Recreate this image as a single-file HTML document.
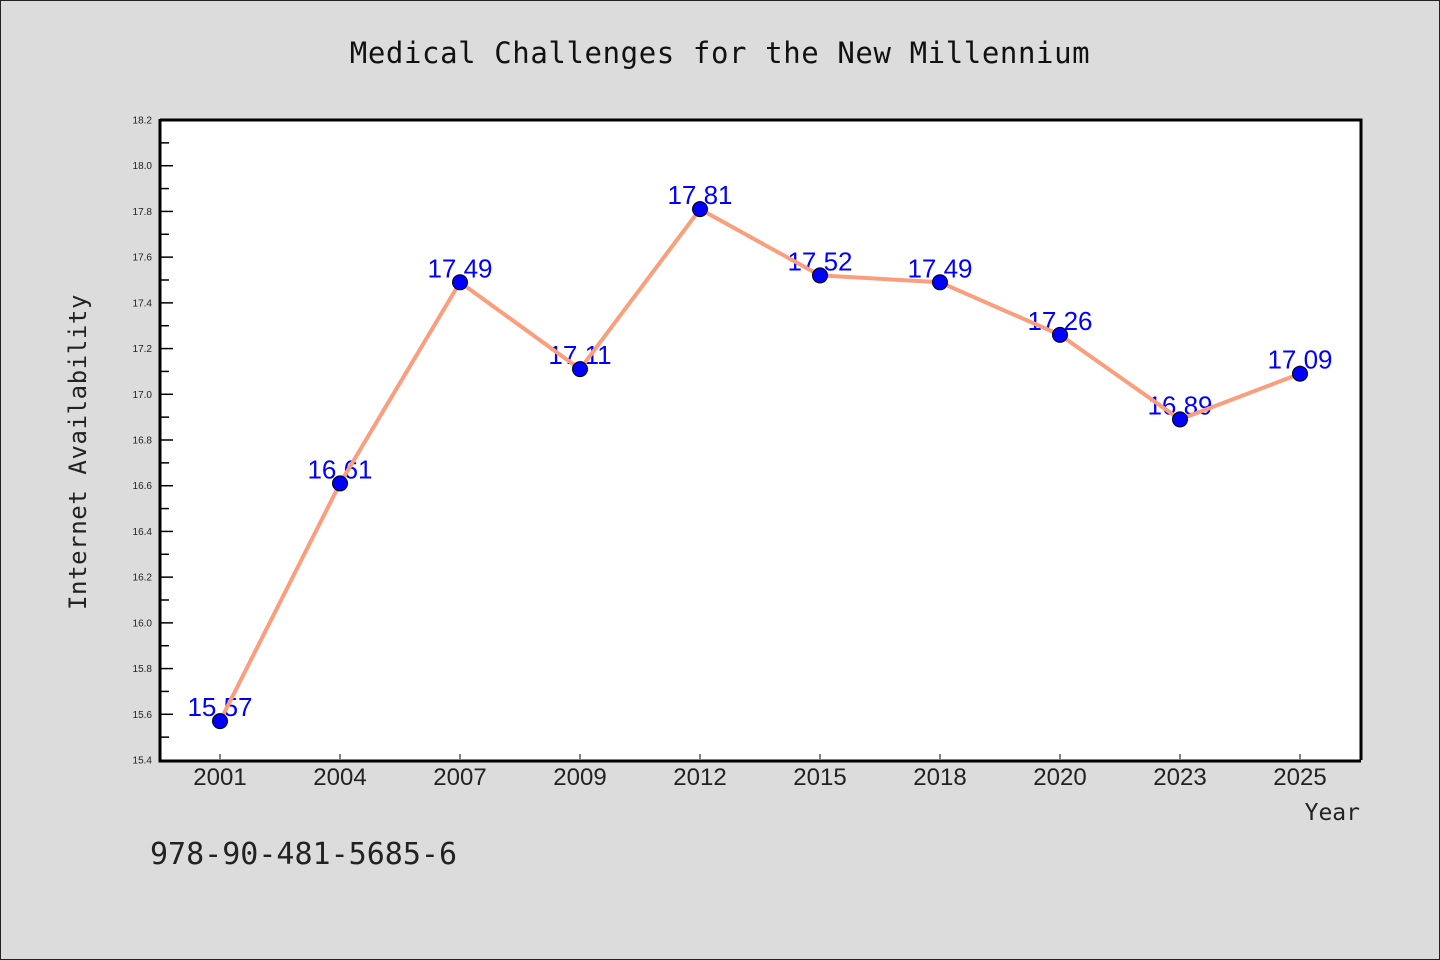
<!DOCTYPE html>
<html><head><meta charset="utf-8"><style>
html,body{margin:0;padding:0;background:#dcdcdc;}
svg{display:block;}
</style></head><body>
<svg width="1440" height="960" xmlns="http://www.w3.org/2000/svg">
<rect x="0.5" y="0.5" width="1439" height="959" fill="#dcdcdc" stroke="#222"/>
<text x="720" y="63" text-anchor="middle" font-family="DejaVu Sans Mono, Liberation Mono, monospace" font-size="29" letter-spacing="0.6" fill="#111">Medical Challenges for the New Millennium</text>
<rect x="160" y="120" width="1200" height="640" fill="#fff"/>
<g id="ticks"></g>
<g id="labels"></g>
<g id="series"></g>
<path d="M160,120 L1361,120 L1361,760 M160,119 L160,761 L1361,761" fill="none" stroke="#000" stroke-width="3"/>
<text x="86" y="452" text-anchor="middle" transform="rotate(-90 86 452)" font-family="DejaVu Sans Mono, Liberation Mono, monospace" font-size="24" letter-spacing="0.6" fill="#222">Internet Availability</text>
<text x="1360" y="820" text-anchor="end" font-family="DejaVu Sans Mono, Liberation Mono, monospace" font-size="23" fill="#222">Year</text>
<text x="150" y="864" font-family="DejaVu Sans Mono, Liberation Mono, monospace" font-size="30" fill="#222">978-90-481-5685-6</text>
</svg>
<script>
const categories = ["2001","2004","2007","2009","2012","2015","2018","2020","2023","2025"];
const values = [15.57,16.61,17.49,17.11,17.81,17.52,17.49,17.26,16.89,17.09];
const yTicks = [15.4,15.6,15.8,16.0,16.2,16.4,16.6,16.8,17.0,17.2,17.4,17.6,17.8,18.0,18.2];
const NS="http://www.w3.org/2000/svg";
const yMin=15.4,yMax=18.2,yTop=120,yBot=760,xLeft=160,xRight=1360;
function y(v){return yBot-(v-yMin)/(yMax-yMin)*(yBot-yTop);}
function x(i){const bw=(xRight-xLeft)/categories.length;return xLeft+bw*(i+0.5);}
function mk(tag,attrs,parent){const e=document.createElementNS(NS,tag);for(const k in attrs)e.setAttribute(k,attrs[k]);parent.appendChild(e);return e;}
const tg=document.getElementById('ticks'),lg=document.getElementById('labels'),sg=document.getElementById('series');
yTicks.forEach((t,i)=>{
  const yy=y(t);
  if(i>0&&i<yTicks.length-1){const l=mk('line',{x1:161,x2:173,y1:yy,y2:yy,stroke:'#000','stroke-width':1.5},tg);
  
  }
  const tx=mk('text',{x:152,y:yy+3.5,'text-anchor':'end','font-family':'Liberation Sans, sans-serif','font-size':10,fill:'#222'},tg);
  tx.textContent=t.toFixed(1);
  
  
  if(i<yTicks.length-1){const m=y(t+0.1);const ml=mk('line',{x1:161,x2:169,y1:m,y2:m,stroke:'#000','stroke-width':1.5},tg);
  
  }
});
categories.forEach((c,i)=>{
  const l=mk('line',{x1:x(i),x2:x(i),y1:759,y2:754,stroke:'#000','stroke-width':1},tg);
  
  
  const t=mk('text',{x:x(i),y:785,'text-anchor':'middle','font-family':'Liberation Sans, sans-serif','font-size':24,fill:'#222'},tg);
  t.textContent=c;
  
  
});
values.forEach((v,i)=>{
  const t=mk('text',{x:x(i),y:y(v)-5,'text-anchor':'middle','font-family':'Liberation Sans, sans-serif','font-size':26,fill:'#0000ff'},lg);
  t.textContent=v.toFixed(2);
  
  
});
const p=mk('polyline',{points:values.map((v,i)=>x(i)+','+y(v)).join(' '),fill:'none',stroke:'#fa9e7e','stroke-width':4,'stroke-linejoin':'round'},sg);


values.forEach((v,i)=>{
  const c=mk('circle',{cx:x(i),cy:y(v),r:7.5,fill:'#0000ff',stroke:'#000','stroke-width':1},sg);
  
  
});
</script>
</body></html>
